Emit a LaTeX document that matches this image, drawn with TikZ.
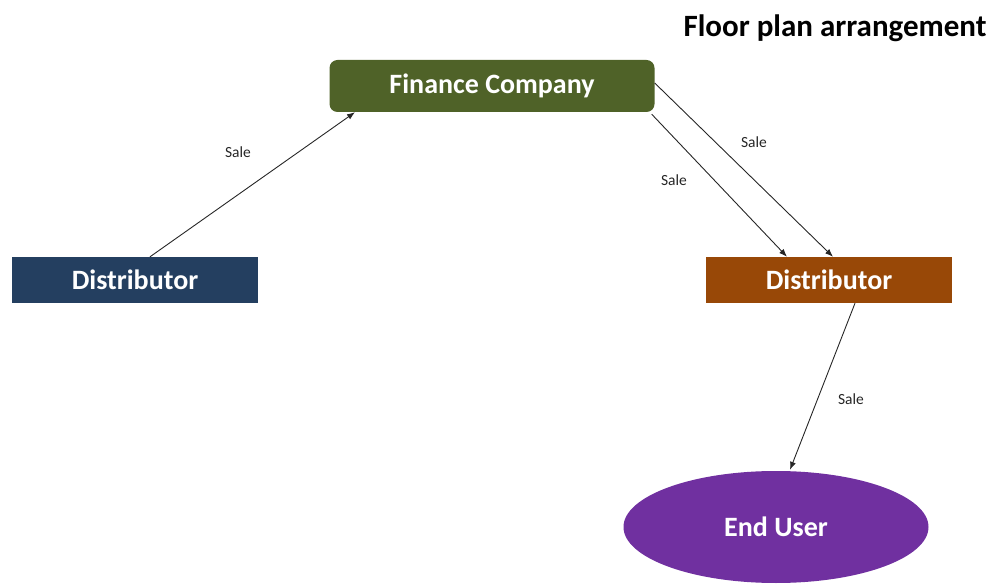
\documentclass[tikz,border=0pt]{standalone}
\usepackage{fontspec}
\setmainfont{Carlito}
\usepackage{tikz}
\usetikzlibrary{positioning,shapes.geometric,arrows.meta}

\definecolor{fingreen}{HTML}{4F6228}
\definecolor{distblue}{HTML}{243F60}
\definecolor{distbrown}{HTML}{984807}
\definecolor{userpurple}{HTML}{7030A0}
\definecolor{linegray}{HTML}{262626}

\tikzset{
    box/.style={rectangle, text=white, font=\fontsize{28}{32}\selectfont\bfseries, minimum width=246pt, minimum height=46pt, inner sep=0pt},
    flow/.style={draw=linegray, line width=0.9pt, -{Latex[length=8pt,width=6pt]}},
    salelabel/.style={font=\fontsize{15.5}{18}\selectfont, text=linegray}
}

\begin{document}
\begin{tikzpicture}[x=1pt, y=-1pt]
        \useasboundingbox (0, 0) rectangle (1007, 585);

        \node (title) at (835, 28) {\fontsize{31}{36}\selectfont\bfseries Floor plan arrangement};
        \node[box, fill=fingreen, rounded corners=8pt, minimum width=325pt, minimum height=52pt] (fin) at (492, 86) {Finance Company};
        \node[box, fill=distblue] (ldist) at (135, 280) {Distributor};
        \node[box, fill=distbrown] (rdist) at (829, 280) {Distributor};
        \node[ellipse, fill=userpurple, text=white, font=\fontsize{28}{32}\selectfont\bfseries, minimum width=305pt, minimum height=112pt, inner sep=0pt] (euser) at (776, 527) {End User};

        \draw[flow] ([xshift=15pt]ldist.north) -- ([xshift=-137pt]fin.south);
        \draw[flow] ([yshift=3pt]fin.east) -- ([xshift=4pt]rdist.north);
        \draw[flow] ([xshift=-3pt, yshift=-2pt]fin.south east) -- ([xshift=-42pt]rdist.north);
        \draw[flow] ([xshift=26pt]rdist.south) -- ([xshift=14pt, yshift=1pt]euser.north);

        \node[salelabel] (sale1) at (238, 152) {Sale};
        \node[salelabel] (sale2) at (754, 142) {Sale};
        \node[salelabel] (sale3) at (674, 180) {Sale};
        \node[salelabel] (sale4) at (851, 399) {Sale};
    \end{tikzpicture}
\end{document}
